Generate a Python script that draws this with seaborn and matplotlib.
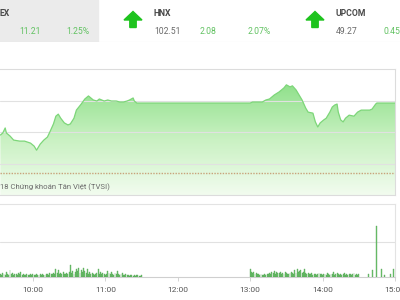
import numpy as np
import pandas as pd
import seaborn as sns
import matplotlib
matplotlib.use("Agg")
import matplotlib.pyplot as plt
from matplotlib.colors import LinearSegmentedColormap
from matplotlib.patches import Polygon, Rectangle

# ---------------- data ----------------
price_times = ["09:33", "09:35", "09:37", "09:38", "09:39", "09:41", "09:44", "09:49", "09:53", "09:58",
               "10:01", "10:03", "10:06", "10:09", "10:12", "10:14", "10:17", "10:19", "10:21", "10:23",
               "10:26", "10:29", "10:31", "10:34", "10:36", "10:40", "10:43", "10:46", "10:48", "10:50",
               "10:53", "10:55", "10:59", "11:02", "11:05", "11:09", "11:12", "11:15", "11:18", "11:20",
               "11:23", "11:24", "11:26", "11:30", "13:00", "13:02", "13:10", "13:13", "13:16", "13:20",
               "13:24", "13:28", "13:30", "13:33", "13:35", "13:38", "13:41", "13:43", "13:46", "13:48",
               "13:52", "13:54", "13:56", "13:58", "14:01", "14:03", "14:06", "14:08", "14:10", "14:12",
               "14:13", "14:15", "14:17", "14:19", "14:22", "14:26", "14:29", "14:32", "14:35", "14:39",
               "14:41", "14:44", "14:45", "15:00"]
price_values = [101.56, 101.62, 101.77, 101.62, 101.59, 101.53, 101.41, 101.38, 101.38, 101.32,
                101.23, 101.11, 101.29, 101.41, 101.50, 101.65, 101.89, 102.12, 102.18, 102.06,
                101.92, 101.86, 101.89, 102.06, 102.30, 102.48, 102.63, 102.72, 102.66, 102.60,
                102.57, 102.63, 102.57, 102.60, 102.57, 102.57, 102.54, 102.54, 102.57, 102.60,
                102.66, 102.57, 102.51, 102.51, 102.51, 102.54, 102.54, 102.60, 102.63, 102.75,
                102.84, 102.96, 103.05, 102.99, 103.02, 102.90, 102.72, 102.60, 102.36, 102.24,
                102.21, 101.95, 101.80, 101.92, 102.01, 102.06, 102.24, 102.39, 102.45, 102.48,
                102.24, 102.01, 101.95, 102.06, 102.15, 102.12, 102.24, 102.30, 102.30, 102.30,
                102.33, 102.48, 102.51, 102.51]
reference_price = 100.43

vol_morning_start = "09:33"
vol_morning = [30, 20, 40, 30, 20, 50, 30, 20, 70, 30, 40, 20, 30,
               30, 20, 40, 30, 50, 20, 30, 20, 20, 30, 20, 20, 30, 20, 30,
               20, 20, 30, 20, 20, 30, 20, 30, 20, 20, 30, 30, 20, 40, 30,
               30, 40, 30, 80, 40, 70, 30, 40, 30, 50, 30, 30, 40, 30, 50,
               120, 40, 60, 30, 50, 80, 60, 90, 40, 70, 50, 90, 60, 40, 80,
               30, 50, 30, 40, 30, 20, 30, 40, 80, 30, 50, 30, 40, 30, 20,
               30, 60, 40, 30, 50, 30, 20, 40, 30, 60, 30, 20, 30, 40, 20,
               20, 30, 20, 20, 10, 20, 20, 10, 20, 10, 20, 20, 10, 10, 20]
vol_afternoon_start = "13:00"
vol_afternoon = [80, 50, 40, 50, 30, 40, 30, 30, 20, 30, 20, 20, 30, 20, 30,
                 30, 40, 30, 50, 40, 60, 30, 50, 40, 40, 50, 30, 40, 30, 50,
                 40, 30, 30, 40, 50, 40, 30, 70, 40, 80, 50, 60, 70, 40, 50,
                 80, 40, 30, 40, 30, 30, 40, 20, 30, 30, 20, 30, 40, 30, 30,
                 20, 30, 30, 20, 40, 30, 20, 30, 30, 50, 20, 30, 40, 30, 20,
                 30, 20, 30, 40, 20, 30, 20, 30, 30, 20, 30, 40, 20, 30, 20,
                 30]
vol_late_times = ["14:38", "14:41", "14:45", "14:49", "14:51", "14:56", "14:59"]
vol_late = [30, 70, 510, 80, 20, 30, 80]

tick_labels = ["10:00", "11:00", "12:00", "13:00", "14:00", "15:00"]

header_names = ["EX", "HNX", "UPCOM"]
header_values = ["", "102.51", "49.27"]
header_changes = ["11.21", "2.08", "0.45"]
header_pcts = ["1.25%", "2.07%", ""]


def to_min(s):
    h, m = s.split(":")
    return int(h) * 60 + int(m)


price_df = pd.DataFrame({"t": [to_min(s) for s in price_times], "p": price_values})
m0 = to_min(vol_morning_start)
a0 = to_min(vol_afternoon_start)
vol_df = pd.DataFrame({
    "t": [m0 + i for i in range(len(vol_morning))] + [a0 + i for i in range(len(vol_afternoon))]
         + [to_min(s) for s in vol_late_times],
    "v": vol_morning + vol_afternoon + vol_late,
})

# ---------------- figure ----------------
sns.set_theme(style="white")
plt.rcParams["font.family"] = ["Roboto", "DejaVu Sans"]

W, H = 400, 300
fig = plt.figure(figsize=(4, 3), dpi=100)
fig.patch.set_facecolor("white")

x_left = 572.7
x_right = 900.0
ax_w = 395 / W

# header axes in pixel coords
hax = fig.add_axes([0, (H - 42) / H, 1, 42 / H])
hax.set_xlim(0, W)
hax.set_ylim(42, 0)
hax.axis("off")
hax.add_patch(Rectangle((0, 0), 98, 42, color="#ebebeb", zorder=0))
hax.plot([0, 400], [41.5, 41.5], color="#e6e6e6", lw=0.8)

green_txt = "#62c262"
gray_txt = "#6a6a6a"
name_col = "#4a4a4a"

def arrow(cx):
    pts = [(cx, 11.5), (cx + 9, 20), (cx + 3.2, 20), (cx + 3.2, 27.5),
           (cx - 3.2, 27.5), (cx - 3.2, 20), (cx - 9, 20)]
    hax.add_patch(Polygon(pts, closed=True, color="#1ec31e", zorder=3))

# VN block (cut)
hax.text(0, 14, header_names[0], fontsize=6.2, fontweight="bold", color=name_col, va="center", ha="left")
hax.text(19, 31, header_changes[0], fontsize=6.2, color=green_txt, va="center", ha="left")
hax.text(66, 31, header_pcts[0], fontsize=6.2, color=green_txt, va="center", ha="left")
# HNX
arrow(133)
hax.text(154, 14, header_names[1], fontsize=6.2, fontweight="bold", color=name_col, va="center", ha="left")
hax.text(154, 31, header_values[1], fontsize=6.2, color=gray_txt, va="center", ha="left")
hax.text(200, 31, header_changes[1], fontsize=6.2, color=green_txt, va="center", ha="left")
hax.text(248, 31, header_pcts[1], fontsize=6.2, color=green_txt, va="center", ha="left")
# UPCOM
arrow(315)
hax.text(336, 14, header_names[2], fontsize=6.2, fontweight="bold", color=name_col, va="center", ha="left")
hax.text(336, 31, header_values[2], fontsize=6.2, color=gray_txt, va="center", ha="left")
hax.text(383, 31, header_changes[2], fontsize=6.2, color=green_txt, va="center", ha="left")

# ---------------- price panel ----------------
ax = fig.add_axes([0, (H - 195) / H, ax_w, 126 / H])
y_bot, y_top = 99.78, 103.52
grid_levels = [100.70, 101.64, 102.58]

gcmap = LinearSegmentedColormap.from_list("g", ["#f2fcef", "#c9f1c2", "#8fe08a"])
grad = np.linspace(0, 1, 256).reshape(-1, 1)
img = ax.imshow(grad, extent=[x_left, x_right, y_bot, 103.1], origin="lower",
                aspect="auto", cmap=gcmap, zorder=1, interpolation="bicubic")
poly = ax.fill_between(price_df["t"], price_df["p"], y_bot, color="none", lw=0)
img.set_clip_path(poly.get_paths()[0], transform=ax.transData)

sns.lineplot(data=price_df, x="t", y="p", ax=ax, color="#7dd679", lw=0.9, zorder=3)

for g in grid_levels:
    ax.axhline(g, color="#e1e1e1", lw=0.8, zorder=2)
ax.axhline(reference_price, color="#c8a27a", lw=1.0, ls=(0, (1, 1)), zorder=4)

ax.set_xlim(x_left, x_right)
ax.set_ylim(y_bot, y_top)
ax.set_xticks([])
ax.set_yticks([])
ax.set_xlabel("")
ax.set_ylabel("")
for s in ["left"]:
    ax.spines[s].set_visible(False)
for s in ["top", "right", "bottom"]:
    ax.spines[s].set_color("#dcdcdc")
    ax.spines[s].set_linewidth(0.8)
ax.set_facecolor("none")
ax.text(0.0, 0.06, "18 Chứng khoán Tân Việt (TVSI)", transform=ax.transAxes,
        fontsize=5.6, color="#6a6a6a", ha="left", va="center", zorder=5)

# ---------------- volume panel ----------------
vax = fig.add_axes([0, (H - 277) / H, ax_w, 73 / H])
vax.bar(vol_df["t"], vol_df["v"], width=0.75, color="#72c872", edgecolor="#4e9e4e",
        linewidth=0.25, zorder=3)
vax.axhline(350, color="#e1e1e1", lw=0.8, zorder=1)
vax.set_xlim(x_left, x_right)
vax.set_ylim(0, 730)
vax.set_yticks([])
vax.set_xticks([to_min(s) for s in tick_labels])
vax.set_xticklabels(tick_labels)
vax.tick_params(axis="x", length=3, width=0.6, color="#cccccc", labelsize=6,
                labelcolor="#555555", pad=4, bottom=True)
vax.spines["left"].set_visible(False)
for s in ["top", "right"]:
    vax.spines[s].set_color("#e3e3e3")
    vax.spines[s].set_linewidth(0.8)
vax.spines["bottom"].set_color("#cfcfcf")
vax.spines["bottom"].set_linewidth(0.8)
vax.set_xlabel("")
vax.set_ylabel("")

fig.savefig("out.png", dpi=100, facecolor="white")
